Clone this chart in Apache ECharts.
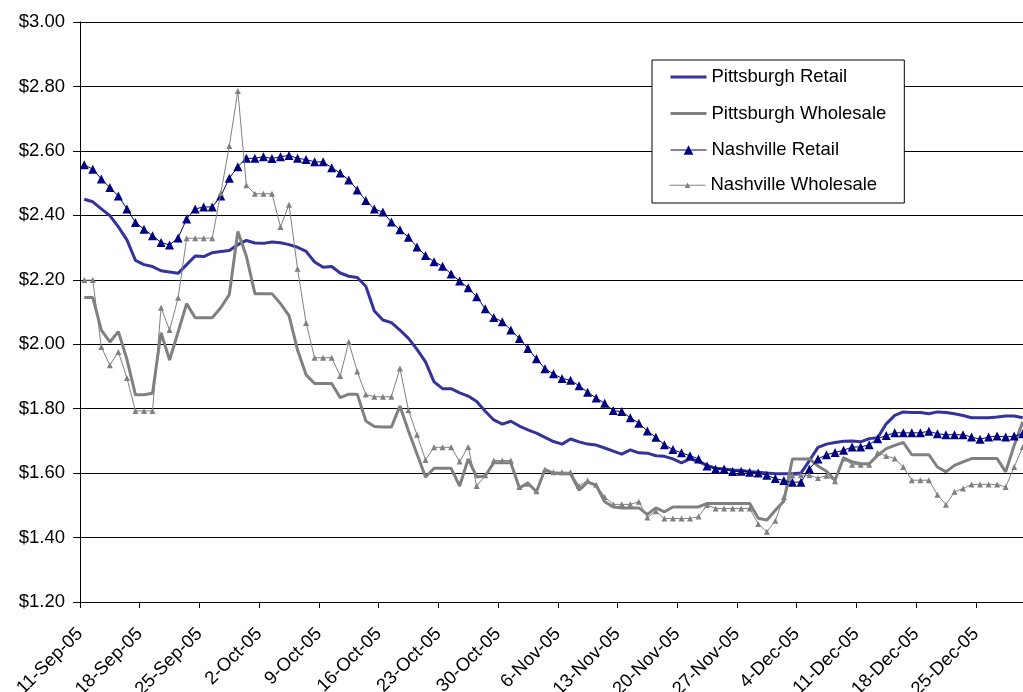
<!DOCTYPE html>
<html>
<head>
<meta charset="utf-8">
<script src="https://cdn.jsdelivr.net/npm/echarts@6/dist/echarts.min.js"></script>
<style>
html,body{margin:0;padding:0;background:#fff;}
#c{width:1023px;height:692px;}
</style>
</head>
<body>
<div id="c"></div>
<script>
// Weekly tick labels (one every 7 days starting 11-Sep-05)
const tickLabels = ['11-Sep-05','18-Sep-05','25-Sep-05','2-Oct-05','9-Oct-05','16-Oct-05','23-Oct-05','30-Oct-05',
  '6-Nov-05','13-Nov-05','20-Nov-05','27-Nov-05','4-Dec-05','11-Dec-05','18-Dec-05','25-Dec-05'];

// Daily prices, 11-Sep-05 .. 30-Dec-05
const pittsburghRetail = [
  2.450,2.442,2.420,2.399,2.364,2.324,2.260,2.247,2.241,2.228,
  2.224,2.220,2.247,2.274,2.272,2.284,2.288,2.291,2.309,2.322,
  2.314,2.313,2.317,2.315,2.309,2.301,2.288,2.255,2.239,2.241,
  2.221,2.211,2.207,2.180,2.103,2.075,2.067,2.044,2.018,1.984,
  1.945,1.883,1.862,1.862,1.849,1.839,1.822,1.792,1.765,1.752,
  1.761,1.746,1.734,1.724,1.711,1.698,1.690,1.706,1.697,1.690,
  1.687,1.678,1.668,1.659,1.672,1.663,1.662,1.654,1.652,1.644,
  1.632,1.644,1.636,1.624,1.615,1.613,1.610,1.608,1.605,1.603,
  1.600,1.598,1.598,1.598,1.600,1.639,1.680,1.690,1.695,1.699,
  1.700,1.697,1.707,1.710,1.753,1.779,1.790,1.788,1.788,1.784,
  1.790,1.788,1.784,1.779,1.772,1.772,1.772,1.774,1.777,1.777,
  1.772];
const pittsburghWholesale = [
  2.145,2.145,2.044,2.007,2.039,1.953,1.843,1.843,1.848,2.036,
  1.951,2.038,2.126,2.082,2.082,2.082,2.113,2.154,2.350,2.273,
  2.157,2.157,2.157,2.126,2.089,1.982,1.905,1.878,1.878,1.878,
  1.834,1.845,1.845,1.762,1.745,1.743,1.743,1.808,1.731,1.659,
  1.588,1.615,1.615,1.615,1.560,1.644,1.588,1.591,1.632,1.632,
  1.632,1.554,1.569,1.542,1.611,1.600,1.598,1.598,1.547,1.572,
  1.562,1.511,1.495,1.492,1.492,1.492,1.472,1.492,1.480,1.495,
  1.495,1.495,1.495,1.506,1.506,1.506,1.506,1.506,1.506,1.460,
  1.454,1.485,1.513,1.644,1.644,1.644,1.622,1.606,1.578,1.647,
  1.635,1.629,1.629,1.655,1.676,1.686,1.695,1.657,1.657,1.657,
  1.619,1.604,1.624,1.635,1.645,1.645,1.645,1.645,1.604,1.686,
  1.759];
const nashvilleRetail = [
  2.557,2.543,2.513,2.486,2.460,2.420,2.378,2.357,2.337,2.316,
  2.308,2.330,2.389,2.420,2.426,2.426,2.460,2.515,2.551,2.577,
  2.577,2.582,2.576,2.582,2.586,2.577,2.573,2.566,2.566,2.548,
  2.531,2.510,2.479,2.446,2.420,2.410,2.379,2.355,2.332,2.302,
  2.275,2.256,2.242,2.218,2.196,2.175,2.147,2.110,2.083,2.070,
  2.044,2.018,1.987,1.955,1.924,1.908,1.894,1.888,1.871,1.851,
  1.833,1.817,1.794,1.791,1.772,1.755,1.731,1.711,1.688,1.673,
  1.663,1.654,1.644,1.622,1.613,1.613,1.605,1.606,1.603,1.600,
  1.593,1.583,1.577,1.572,1.572,1.613,1.644,1.657,1.664,1.671,
  1.681,1.681,1.688,1.707,1.717,1.725,1.725,1.725,1.725,1.730,
  1.722,1.719,1.719,1.719,1.712,1.705,1.712,1.715,1.712,1.715,
  1.722];
const nashvilleWholesale = [
  2.199,2.199,1.991,1.935,1.976,1.895,1.793,1.793,1.793,2.113,
  2.044,2.144,2.329,2.329,2.329,2.329,2.469,2.615,2.786,2.493,
  2.467,2.467,2.467,2.364,2.433,2.234,2.066,1.958,1.958,1.958,
  1.901,2.007,1.915,1.844,1.837,1.837,1.837,1.925,1.795,1.719,
  1.641,1.680,1.680,1.680,1.636,1.681,1.560,1.593,1.639,1.639,
  1.639,1.557,1.567,1.544,1.611,1.603,1.603,1.603,1.560,1.577,
  1.564,1.526,1.503,1.503,1.503,1.511,1.462,1.482,1.459,1.459,
  1.459,1.459,1.465,1.501,1.490,1.490,1.490,1.490,1.490,1.442,
  1.418,1.452,1.526,1.593,1.593,1.593,1.585,1.592,1.575,1.645,
  1.626,1.626,1.626,1.663,1.653,1.645,1.619,1.578,1.578,1.578,
  1.533,1.502,1.542,1.552,1.565,1.565,1.565,1.565,1.557,1.619,
  1.681];

const FONT = '"Liberation Sans", Arial, Helvetica, sans-serif';
// each day's value is centred in its one-day slot on the day axis
const toPoints = arr => arr.map((v, i) => [i + 0.5, v]);

const legendText = {fontSize: 18.5, color: '#000', fontFamily: FONT};

const chart = echarts.init(document.getElementById('c'), null, {renderer: 'canvas'});
chart.setOption({
  animation: false,
  backgroundColor: '#fff',
  grid: {left: 80, right: -4, top: 22, bottom: 90, containLabel: false, outerBoundsMode: 'none'},
  xAxis: {
    type: 'value', min: 0, max: 111, interval: 7,
    splitLine: {show: false},
    axisLine: {lineStyle: {color: '#000', width: 1}},
    axisTick: {show: true, length: 6, lineStyle: {color: '#000'}},
    axisLabel: {
      rotate: 45, margin: 29, fontSize: 18.5, color: '#000', fontFamily: FONT,
      showMaxLabel: false,
      formatter: v => (v % 7 === 0 && tickLabels[v / 7]) ? tickLabels[v / 7] : ''
    }
  },
  yAxis: {
    type: 'value', min: 1.2, max: 3.0, interval: 0.2,
    axisLine: {show: true, lineStyle: {color: '#000', width: 1}},
    axisTick: {show: true, length: 7, lineStyle: {color: '#000'}},
    splitLine: {show: true, lineStyle: {color: '#000', width: 1}},
    axisLabel: {
      fontSize: 18.5, margin: 15, color: '#000', fontFamily: FONT,
      formatter: v => '$' + v.toFixed(2)
    }
  },
  legend: [
    {
      orient: 'vertical', left: 652, top: 60,
      padding: [7.5, 18, 43.5, 17], itemGap: 17.5, itemWidth: 36, itemHeight: 12,
      backgroundColor: '#fff', borderColor: '#000', borderWidth: 1,
      textStyle: legendText,
      data: [
        {name: 'Pittsburgh Retail', itemStyle: {opacity: 0}, lineStyle: {width: 3}},
        {name: 'Pittsburgh Wholesale', itemStyle: {opacity: 0}, lineStyle: {width: 3}},
        {name: 'Nashville Retail', lineStyle: {width: 1}}
      ]
    },
    {
      orient: 'vertical', left: 669, top: 175.75,
      padding: 0, itemWidth: 36, itemHeight: 7,
      textStyle: legendText,
      data: [{name: 'Nashville Wholesale', lineStyle: {width: 1}}]
    }
  ],
  series: [
    {name: 'Pittsburgh Retail', type: 'line', data: toPoints(pittsburghRetail), symbol: 'none',
     lineStyle: {color: '#333399', width: 3}, itemStyle: {color: '#333399'}, z: 2},
    {name: 'Pittsburgh Wholesale', type: 'line', data: toPoints(pittsburghWholesale), symbol: 'none',
     lineStyle: {color: '#808080', width: 3}, itemStyle: {color: '#808080'}, z: 3},
    {name: 'Nashville Retail', type: 'line', data: toPoints(nashvilleRetail), symbol: 'triangle', symbolSize: 9,
     showAllSymbol: true, lineStyle: {color: '#000080', width: 1}, itemStyle: {color: '#000080'}, z: 4},
    {name: 'Nashville Wholesale', type: 'line', data: toPoints(nashvilleWholesale), symbol: 'triangle', symbolSize: 6,
     showAllSymbol: true, lineStyle: {color: '#808080', width: 1}, itemStyle: {color: '#808080'}, z: 5}
  ]
});
</script>
</body>
</html>
